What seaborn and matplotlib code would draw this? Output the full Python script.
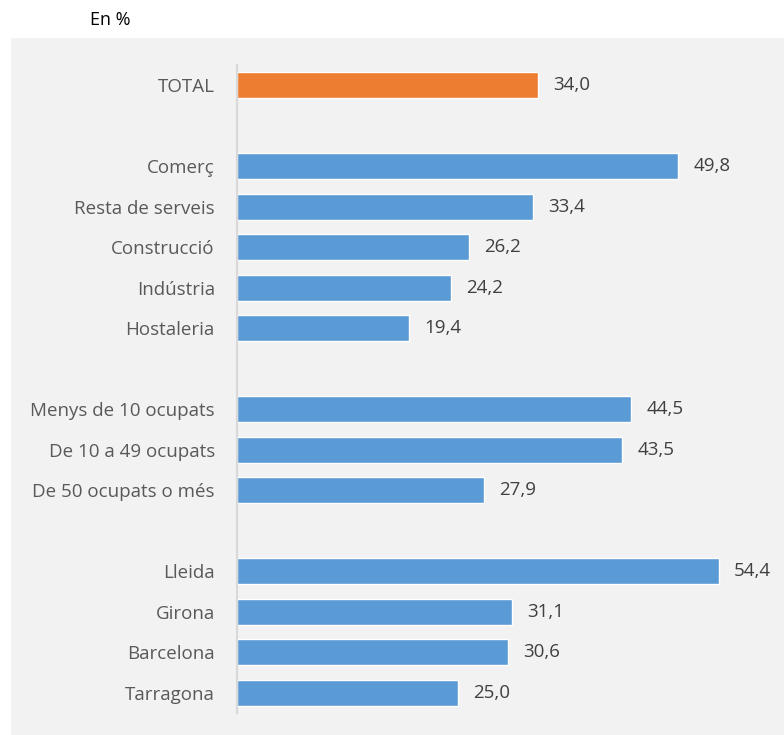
import matplotlib
matplotlib.use("Agg")
import matplotlib.pyplot as plt
import pandas as pd
import seaborn as sns
from matplotlib.patches import Rectangle

# Data
labels_total = ['TOTAL']
values_total = [34.0]
labels_sector = ['Comerç', 'Resta de serveis', 'Construcció', 'Indústria', 'Hostaleria']
values_sector = [49.8, 33.4, 26.2, 24.2, 19.4]
labels_size = ['Menys de 10 ocupats', 'De 10 a 49 ocupats', 'De 50 ocupats o més']
values_size = [44.5, 43.5, 27.9]
labels_prov = ['Lleida', 'Girona', 'Barcelona', 'Tarragona']
values_prov = [54.4, 31.1, 30.6, 25.0]

blue = '#5B9BD5'
orange = '#ED7D31'
bg = '#f2f2f2'

df = pd.DataFrame({
    'cat': labels_total + labels_sector + labels_size + labels_prov,
    'val': values_total + values_sector + values_size + values_prov,
})
df['grp'] = ['total'] + ['other'] * (len(df) - 1)

# empty slots separate the groups
order = (labels_total + ['gap1'] + labels_sector + ['gap2']
         + labels_size + ['gap3'] + labels_prov)

sns.set_style('white')
plt.rcParams['font.family'] = ['Open Sans', 'DejaVu Sans']

fig = plt.figure(figsize=(7.84, 7.35), dpi=100)
fig.patches.append(Rectangle((11 / 784, 0), 1 - 11 / 784, 1 - 38 / 735,
                             transform=fig.transFigure, facecolor=bg,
                             edgecolor='none', zorder=-5))
ax = fig.add_axes([237 / 784, 1 - 713 / 735, 547 / 784, 648 / 735])
ax.set_facecolor('none')

sns.barplot(data=df, y='cat', x='val', hue='grp', order=order,
            palette={'total': orange, 'other': blue}, width=0.63,
            saturation=1, edgecolor='white', linewidth=1, dodge=False,
            legend=False, ax=ax)

for cont in ax.containers:
    ax.bar_label(cont, labels=[f'{v:.1f}'.replace('.', ',') for v in cont.datavalues],
                 padding=11, fontsize=13.5, color='#404040')

ax.set_xlim(0, 547 / (301 / 34.0))
ax.set_ylim(len(order) - 0.5, -0.5)
ax.set_xlabel('')
ax.set_ylabel('')
ax.set_xticks([])
ax.set_yticks(range(len(order)))
ax.set_yticklabels(['' if o.startswith('gap') else o for o in order])
ax.tick_params(axis='y', length=0, pad=16, labelsize=13.5, labelcolor='#595959')
for s in ['top', 'right', 'bottom']:
    ax.spines[s].set_visible(False)
ax.spines['left'].set_color('#d9d9d9')
ax.spines['left'].set_linewidth(1.5)

fig.text(90 / 784, 1 - 20 / 735, 'En %', fontsize=13, color='black',
         va='center', ha='left')

fig.savefig('out.png', dpi=100, facecolor='white')
